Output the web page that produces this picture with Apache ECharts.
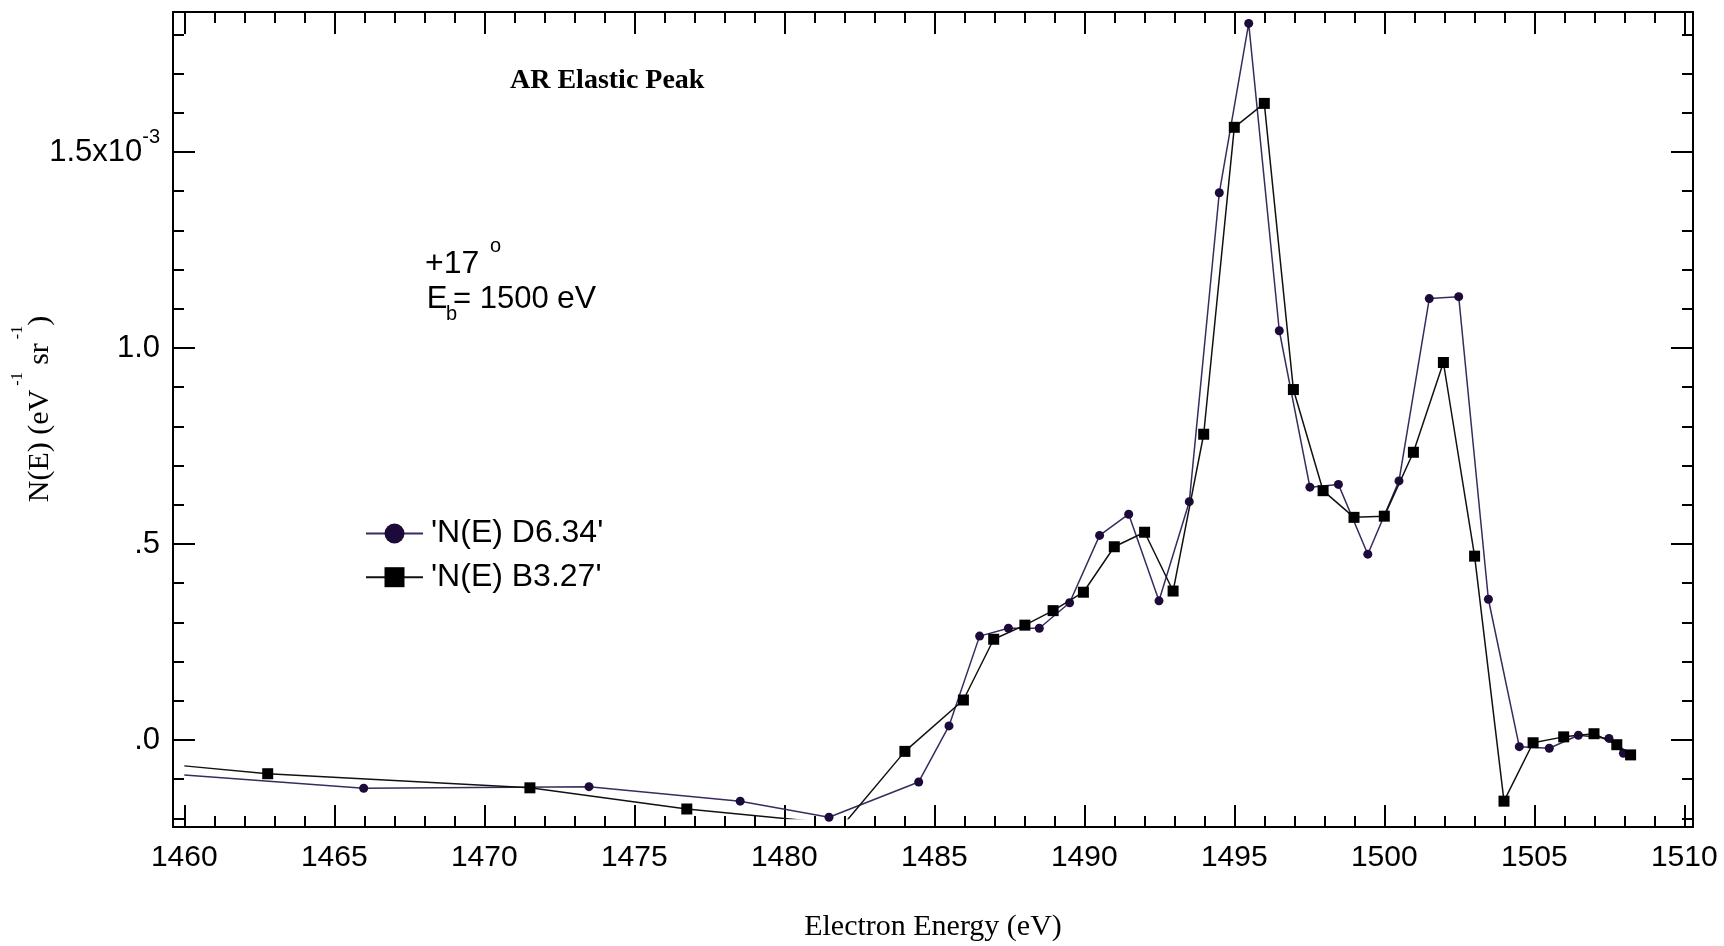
<!DOCTYPE html>
<html>
<head>
<meta charset="utf-8">
<script src="https://cdn.jsdelivr.net/npm/echarts@6/dist/echarts.min.js"></script>
<style>
html, body { margin: 0; padding: 0; background: #fff; }
#chart { width: 1724px; height: 946px; }
</style>
</head>
<body>
<div id="chart"></div>
<script>
// ---------------- data (N(E) in units of 1e-3 eV^-1 sr^-1) ----------------
const seriesNames = ["'N(E) D6.34'", "'N(E) B3.27'"];

const energyD = [1460.00, 1465.98, 1473.49, 1478.53, 1481.49, 1484.48, 1485.49, 1486.51,
  1487.47, 1488.50, 1489.51, 1490.51, 1491.48, 1492.49, 1493.50, 1494.50, 1495.48,
  1496.50, 1497.52, 1498.47, 1499.45, 1500.49, 1501.50, 1502.48, 1503.47, 1504.50,
  1505.50, 1506.47, 1507.49, 1507.97];
const nD = [-0.089, -0.123, -0.119, -0.156, -0.197, -0.107, 0.036, 0.265,
  0.285, 0.285, 0.350, 0.522, 0.576, 0.355, 0.608, 1.396, 1.828,
  1.044, 0.645, 0.652, 0.474, 0.661, 1.126, 1.131, 0.359, -0.017,
  -0.021, 0.012, 0.004, -0.034];

const energyB = [1460.00, 1462.78, 1471.52, 1476.75, 1481.98, 1484.02, 1485.97, 1486.98,
  1488.02, 1488.96, 1489.97, 1491.00, 1492.01, 1492.96, 1493.98, 1495.00, 1496.00,
  1496.97, 1497.96, 1498.99, 1500.00, 1500.97, 1501.97, 1503.01, 1503.99, 1504.96,
  1505.98, 1506.99, 1507.75, 1508.21];
const nB = [-0.066, -0.086, -0.122, -0.176, -0.215, -0.029, 0.102, 0.257,
  0.293, 0.330, 0.377, 0.493, 0.530, 0.380, 0.780, 1.563, 1.624,
  0.894, 0.636, 0.568, 0.571, 0.734, 0.963, 0.469, -0.156, -0.007,
  0.008, 0.016, -0.012, -0.038];

const xTickValues = [1460, 1465, 1470, 1475, 1480, 1485, 1490, 1495, 1500, 1505, 1510];
const xTickLabels = ['1460', '1465', '1470', '1475', '1480', '1485', '1490', '1495', '1500', '1505', '1510'];
const yTickValues = [0, 0.5, 1.0, 1.5];
const yTickLabels = ['.0', '.5', '1.0', '1.5x10^-3'];
const dataXMin = 1460, dataYMin = -0.2;   // clipping range of the plotted data

// ---------------- layout ----------------
const W = 1724, H = 946;
const FRAME = { left: 173, right: 1693, top: 12, bottom: 827 };
const PX_PER_EV = 30, PX_PER_UNIT = 392;
const X_AT_1460 = 184.3, Y_AT_0 = 740;

const frameXMin = 1460 - (X_AT_1460 - FRAME.left) / PX_PER_EV;
const frameXMax = 1460 + (FRAME.right - X_AT_1460) / PX_PER_EV;
const frameYMax = (Y_AT_0 - FRAME.top) / PX_PER_UNIT;
const frameYMin = -(FRAME.bottom - Y_AT_0) / PX_PER_UNIT;
const dataLeft = X_AT_1460 + (dataXMin - 1460) * PX_PER_EV;
const dataBottom = Y_AT_0 - dataYMin * PX_PER_UNIT;

const xMinor = [];
for (let v = 1460; v <= 1510; v++) if (v % 5 !== 0) xMinor.push(v);
const yMinor = [];
for (let i = -2; i <= 18; i++) if (i % 5 !== 0) yMinor.push(i / 10);

const SANS = '"Liberation Sans", Arial, sans-serif';
const SERIF = '"Liberation Serif", "Times New Roman", serif';
const BLACK = '#000';

function findLabel(values, labels, v) {
  const i = values.findIndex(t => Math.abs(t - v) < 1e-6);
  return i >= 0 ? labels[i] : '';
}

function frameAxis(opts) {
  return Object.assign({
    type: 'value', gridIndex: 0,
    scale: true,
    axisLine: { show: !!opts.line, onZero: false, lineStyle: { color: BLACK, width: 2 } },
    axisTick: { show: true, inside: true, length: opts.major ? 22 : 11, customValues: opts.ticks,
                lineStyle: { color: BLACK, width: 2 } },
    axisLabel: { show: false },
    splitLine: { show: false },
    minorTick: { show: false }
  }, opts.extra);
}

const xAxes = [
  frameAxis({ line: true, major: true, ticks: xTickValues, extra: {
    position: 'bottom', min: frameXMin, max: frameXMax,
    axisLabel: { show: true, customValues: xTickValues, margin: 16,
      formatter: v => findLabel(xTickValues, xTickLabels, v),
      fontSize: 30, fontFamily: SANS, color: BLACK },
    name: 'Electron Energy (eV)', nameLocation: 'middle', nameGap: 85,
    nameTextStyle: { fontSize: 30, fontFamily: SERIF, color: BLACK }
  }}),
  frameAxis({ line: false, major: false, ticks: xMinor, extra: { position: 'bottom', min: frameXMin, max: frameXMax } }),
  frameAxis({ line: true, major: true, ticks: xTickValues, extra: { position: 'top', min: frameXMin, max: frameXMax } }),
  frameAxis({ line: false, major: false, ticks: xMinor, extra: { position: 'top', min: frameXMin, max: frameXMax } }),
  { type: 'value', gridIndex: 1, show: false, min: dataXMin, max: frameXMax, scale: true,
    axisLine: { onZero: false }, splitLine: { show: false } }
];

const yAxes = [
  frameAxis({ line: true, major: true, ticks: yTickValues, extra: {
    position: 'left', min: frameYMin, max: frameYMax,
    axisLabel: { show: true, customValues: yTickValues, margin: 13,
      formatter: v => {
        const lab = findLabel(yTickValues, yTickLabels, v);
        if (lab.indexOf('^') >= 0) {
          const p = lab.split('^');
          return '{m|' + p[0] + '}{s|' + p[1] + '}';
        }
        return '{m|' + lab + '}';
      },
      rich: {
        m: { fontSize: 31, lineHeight: 50, fontFamily: SANS, color: BLACK },
        s: { fontSize: 20, lineHeight: 20, fontFamily: SANS, color: BLACK, verticalAlign: 'top' }
      }
    }
  }}),
  frameAxis({ line: false, major: false, ticks: yMinor, extra: { position: 'left', min: frameYMin, max: frameYMax } }),
  frameAxis({ line: true, major: true, ticks: yTickValues, extra: { position: 'right', min: frameYMin, max: frameYMax } }),
  frameAxis({ line: false, major: false, ticks: yMinor, extra: { position: 'right', min: frameYMin, max: frameYMax } }),
  { type: 'value', gridIndex: 1, show: false, min: dataYMin, max: frameYMax, scale: true,
    axisLine: { onZero: false }, splitLine: { show: false } }
];

function buildData(xs, ys) {
  return xs.map((x, i) => x <= dataXMin
    ? { value: [x, ys[i]], symbol: 'none' }
    : [x, ys[i]]);
}

function txt(x, y, text, size, extra) {
  return Object.assign({ type: 'text', x: x, y: y,
    style: { text: text, fontSize: size, fontFamily: SANS, fill: BLACK, align: 'left', verticalAlign: 'middle' } }, extra || {});
}

const option = {
  backgroundColor: '#fff',
  animation: false,
  grid: [
    { left: FRAME.left, right: W - FRAME.right, top: FRAME.top, bottom: H - FRAME.bottom,
      containLabel: false, outerBoundsMode: 'none' },
    { left: dataLeft, right: W - FRAME.right, top: FRAME.top, bottom: H - dataBottom,
      containLabel: false, outerBoundsMode: 'none' }
  ],
  xAxis: xAxes,
  yAxis: yAxes,
  legend: {
    orient: 'vertical', left: 365, top: 517.5, padding: 0,
    itemWidth: 57, itemHeight: 25, itemGap: 11.7,
    data: seriesNames,
    lineStyle: { width: 2 },
    textStyle: { fontSize: 32, fontFamily: SANS, color: BLACK, lineHeight: 25, padding: [0, 0, 0, 3] }
  },
  series: [
    { name: seriesNames[0], type: 'line', xAxisIndex: 4, yAxisIndex: 4,
      data: buildData(energyD, nD), symbol: 'circle', symbolSize: 9,
      itemStyle: { color: '#1c0a3a' }, lineStyle: { color: '#3b2a5e', width: 1.5 }, z: 3 },
    { name: seriesNames[1], type: 'line', xAxisIndex: 4, yAxisIndex: 4,
      data: buildData(energyB, nB), symbol: 'rect', symbolSize: 11,
      itemStyle: { color: '#000' }, lineStyle: { color: '#111', width: 1.5 }, z: 4 }
  ],
  graphic: [
    { type: 'text', x: 510, y: 81, style: { text: 'AR Elastic Peak', fontSize: 28, fontWeight: 'bold',
        fontFamily: SERIF, fill: BLACK, align: 'left', verticalAlign: 'middle' } },
    txt(425, 264, '+17', 32),
    txt(490, 246, 'o', 20),
    txt(426.7, 299, 'E', 31),
    txt(446, 314, 'b', 20),
    txt(453, 299, '= 1500', 31),
    txt(557, 299, 'eV', 32),
    { type: 'text', x: 40, y: 409, rotation: Math.PI / 2,
      style: { text: '{t|N(E) (eV}{s| -1}{t| sr}{s| -1}{t|)}', align: 'center', verticalAlign: 'middle',
        rich: {
          t: { fontSize: 30, lineHeight: 60, fontFamily: SERIF, fill: BLACK, color: BLACK },
          s: { fontSize: 16, lineHeight: 16, fontFamily: SERIF, fill: BLACK, color: BLACK, verticalAlign: 'top' }
        } } }
  ]
};

const chart = echarts.init(document.getElementById('chart'), null, { renderer: 'canvas' });
chart.setOption(option);
</script>
</body>
</html>
